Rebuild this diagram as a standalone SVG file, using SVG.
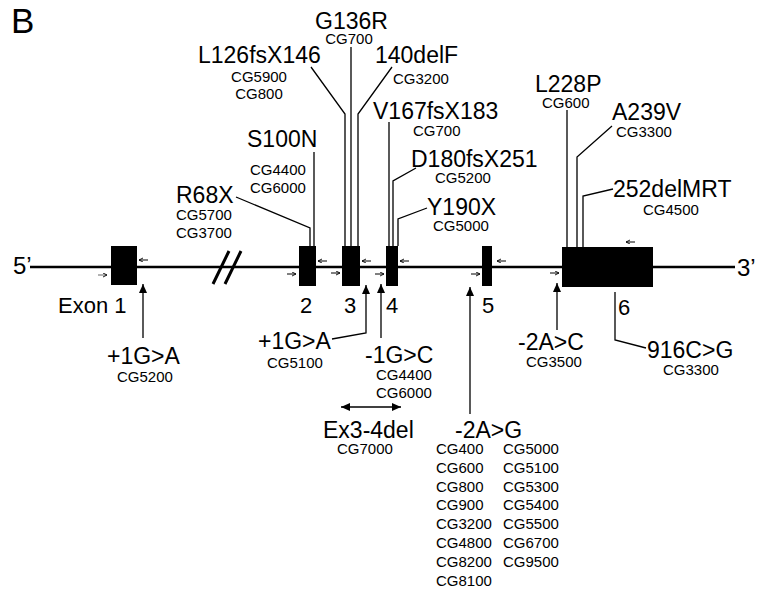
<svg xmlns="http://www.w3.org/2000/svg" width="766" height="591" viewBox="0 0 766 591">
<style>
text{font-family:"Liberation Sans",Arial,Helvetica,sans-serif;fill:#000}
.big{font-size:23px}
.cg{font-size:15px}
.num{font-size:22px}
.exon{fill:#000}
.ln{stroke:#000;stroke-width:1.3;fill:none}
.sa{stroke:#000;stroke-width:1;fill:none}
.main{stroke:#000;stroke-width:3;fill:none}
</style>
<defs>
<marker id="ah" markerUnits="userSpaceOnUse" markerWidth="10" markerHeight="8" refX="9" refY="4" orient="auto">
<path d="M0,0 L9,4 L0,8 z" fill="#000"/>
</marker>
<marker id="ahs" markerUnits="userSpaceOnUse" markerWidth="10" markerHeight="8" refX="0" refY="4" orient="auto">
<path d="M9,0 L0,4 L9,8 z" fill="#000"/>
</marker>
<marker id="sm" markerUnits="userSpaceOnUse" markerWidth="5" markerHeight="5" refX="4" refY="2" orient="auto">
<path d="M0,0 L4,2 L0,4" fill="none" stroke="#000" stroke-width="0.9"/>
</marker>
</defs>
<rect width="766" height="591" fill="#fff"/>
<text x="11" y="33" style="font-size:35px">B</text>

<g id="gene">
<path class="main" d="M30,267 H735" style="stroke-width:2.6"/>
<path d="M213,284 L229,251 M225,284 L241,251" stroke="#000" stroke-width="3" fill="none"/>
<text x="13" y="274" style="font-size:24px">5’</text>
<text x="737" y="276" style="font-size:24px">3’</text>
</g>

<g id="exon1">
<rect class="exon" x="111" y="246" width="26" height="39"/>
<path class="sa" d="M98,275 h9" marker-end="url(#sm)" style="stroke:#666"/>
<path class="sa" d="M148,260 h-9" marker-end="url(#sm)"/>
<text class="num" x="58" y="313">Exon 1</text>
</g>
<g id="exon2">
<path class="sa" d="M287,274 h9" marker-end="url(#sm)"/>
<rect class="exon" x="299" y="246" width="17" height="40"/>
<path class="sa" d="M327,261 h-9" marker-end="url(#sm)"/>
<text class="num" x="306" y="313" text-anchor="middle">2</text>
</g>
<g id="exon3">
<rect class="exon" x="342" y="246" width="18" height="40"/>
<path class="sa" d="M331,273 h9" marker-end="url(#sm)"/>
<path class="sa" d="M371,261 h-9" marker-end="url(#sm)"/>
<text class="num" x="350" y="313" text-anchor="middle">3</text>
</g>
<g id="exon4">
<rect class="exon" x="386" y="246" width="12" height="40"/>
<path class="sa" d="M375,274 h9" marker-end="url(#sm)"/>
<path class="sa" d="M409,261 h-9" marker-end="url(#sm)"/>
<text class="num" x="392" y="313" text-anchor="middle">4</text>
</g>
<g id="exon5">
<rect class="exon" x="482" y="246" width="10" height="40"/>
<path class="sa" d="M471,274 h9" marker-end="url(#sm)"/>
<path class="sa" d="M506,261 h-9" marker-end="url(#sm)"/>
<text class="num" x="488" y="313" text-anchor="middle">5</text>
</g>
<g id="exon6">
<rect class="exon" x="562" y="247" width="91" height="40"/>
<path class="sa" d="M550,273 h9" marker-end="url(#sm)"/>
<path class="sa" d="M635,242 h-9" marker-end="url(#sm)"/>
<text class="num" x="618" y="315">6</text>
</g>

<g id="connectors">
<path class="ln" d="M236,197 L310,228 V246"/>
<path class="ln" d="M314,152 V246"/>
<path class="ln" d="M311,67 L345,114 V246"/>
<path class="ln" d="M351,47 V246"/>
<path class="ln" d="M392,67 L358,114 V246"/>
<path class="ln" d="M389,122 V246"/>
<path class="ln" d="M416,168 L393,181 V246"/>
<path class="ln" d="M427,208 L398,219 V246"/>
<path class="ln" d="M567,110 V247"/>
<path class="ln" d="M612,126 L577,157 V247"/>
<path class="ln" d="M613,189 L583,196 V247"/>
<path class="ln" d="M143,338 V284" marker-end="url(#ah)"/>
<path class="ln" d="M332,339 L366,333 V285" marker-end="url(#ah)"/>
<path class="ln" d="M381,338 V284" marker-end="url(#ah)"/>
<path class="ln" d="M470,414 V287" marker-end="url(#ah)"/>
<path class="ln" d="M557,330 V283" marker-end="url(#ah)"/>
<path class="ln" d="M615,292 V340 L646,348"/>
<path class="ln" d="M341,407 H401" marker-start="url(#ahs)" marker-end="url(#ah)"/>
</g>

<g id="m-R68X">
<text class="big" x="176" y="203">R68X</text>
<text class="cg" x="176" y="220">CG5700</text>
<text class="cg" x="176" y="238">CG3700</text>
</g>
<g id="m-S100N">
<text class="big" x="247" y="147">S100N</text>
<text class="cg" x="250" y="175">CG4400</text>
<text class="cg" x="250" y="193">CG6000</text>
</g>
<g id="m-L126fsX146">
<text class="big" x="198" y="63">L126fsX146</text>
<text class="cg" x="259" y="82" text-anchor="middle">CG5900</text>
<text class="cg" x="259" y="99" text-anchor="middle">CG800</text>
</g>
<g id="m-G136R">
<text class="big" x="315" y="29">G136R</text>
<text class="cg" x="349" y="44" text-anchor="middle">CG700</text>
</g>
<g id="m-140delF">
<text class="big" x="375" y="63">140delF</text>
<text class="cg" x="393" y="84">CG3200</text>
</g>
<g id="m-V167fsX183">
<text class="big" x="373" y="119">V167fsX183</text>
<text class="cg" x="413" y="136">CG700</text>
</g>
<g id="m-D180fsX251">
<text class="big" x="411" y="167">D180fsX251</text>
<text class="cg" x="435" y="183">CG5200</text>
</g>
<g id="m-Y190X">
<text class="big" x="427" y="215">Y190X</text>
<text class="cg" x="433" y="231">CG5000</text>
</g>
<g id="m-L228P">
<text class="big" x="535" y="92">L228P</text>
<text class="cg" x="542" y="108">CG600</text>
</g>
<g id="m-A239V">
<text class="big" x="612" y="120">A239V</text>
<text class="cg" x="616" y="137">CG3300</text>
</g>
<g id="m-252delMRT">
<text class="big" x="613" y="197">252delMRT</text>
<text class="cg" x="643" y="215">CG4500</text>
</g>
<g id="m-ex1-1GA">
<text class="big" x="107" y="364">+1G&gt;A</text>
<text class="cg" x="117" y="382">CG5200</text>
</g>
<g id="m-ex3-1GA">
<text class="big" x="258" y="349">+1G&gt;A</text>
<text class="cg" x="267" y="368">CG5100</text>
</g>
<g id="m-1GC">
<text class="big" x="365" y="363">-1G&gt;C</text>
<text class="cg" x="376" y="380">CG4400</text>
<text class="cg" x="376" y="398">CG6000</text>
</g>
<g id="m-Ex3-4del">
<text class="big" x="323" y="438">Ex3-4del</text>
<text class="cg" x="337" y="454">CG7000</text>
</g>
<g id="m-2AG">
<text class="big" x="455" y="438">-2A&gt;G</text>
<text class="cg" x="436" y="454">CG400</text>
<text class="cg" x="436" y="473">CG600</text>
<text class="cg" x="436" y="492">CG800</text>
<text class="cg" x="436" y="510">CG900</text>
<text class="cg" x="436" y="529">CG3200</text>
<text class="cg" x="436" y="548">CG4800</text>
<text class="cg" x="436" y="567">CG8200</text>
<text class="cg" x="436" y="586">CG8100</text>
<text class="cg" x="503" y="454">CG5000</text>
<text class="cg" x="503" y="473">CG5100</text>
<text class="cg" x="503" y="492">CG5300</text>
<text class="cg" x="503" y="510">CG5400</text>
<text class="cg" x="503" y="529">CG5500</text>
<text class="cg" x="503" y="548">CG6700</text>
<text class="cg" x="503" y="567">CG9500</text>
</g>
<g id="m-2AC">
<text class="big" x="518" y="350">-2A&gt;C</text>
<text class="cg" x="526" y="367">CG3500</text>
</g>
<g id="m-916CG">
<text class="big" x="647" y="358">916C&gt;G</text>
<text class="cg" x="663" y="375">CG3300</text>
</g>
</svg>
